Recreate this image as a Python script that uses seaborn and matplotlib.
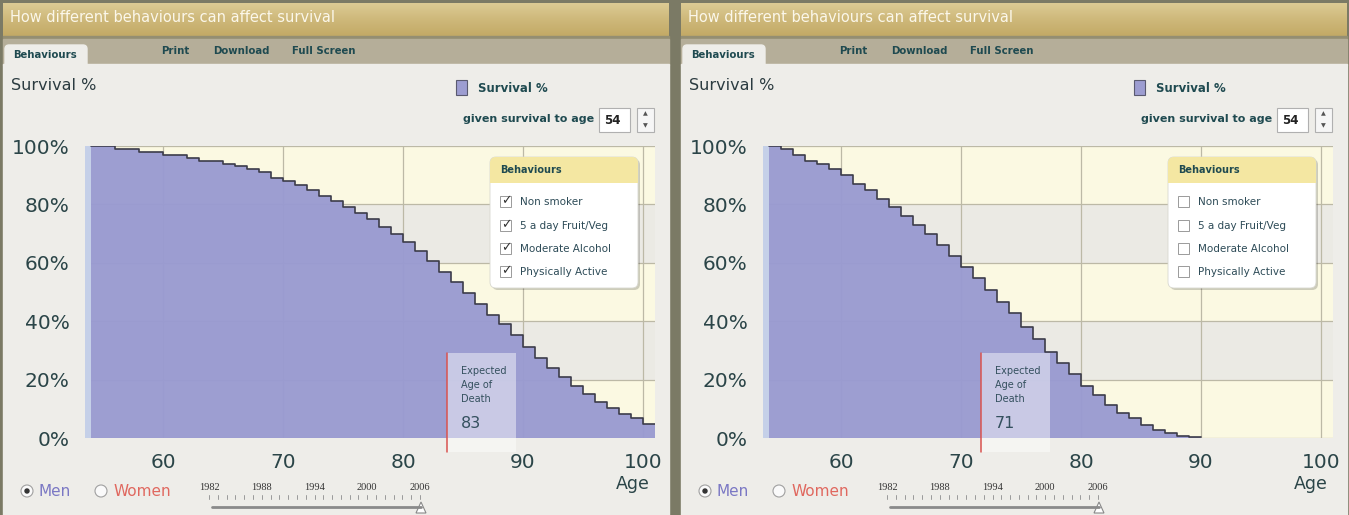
import numpy as np
import matplotlib
matplotlib.use('Agg')
import matplotlib.pyplot as plt
from matplotlib.patches import Rectangle, FancyBboxPatch, Circle, Polygon
from matplotlib.colors import LinearSegmentedColormap
import seaborn as sns

# survival curves (men, given survival to 54)
ages_left = list(range(54, 101))
survival_left = [100, 100, 99, 99, 98, 98, 97, 97, 96, 95, 95, 94, 93, 92, 91, 89,
                 88, 86.6, 84.9, 83, 81, 79, 77, 75, 72.2, 70, 67.2, 64, 60.5, 57,
                 53.3, 49.8, 46, 42, 39, 35.3, 31.3, 27.3, 23.9, 20.8, 17.8, 15,
                 12.4, 10.2, 8.2, 6.7, 4.8]
expected_left = 83
checked_left = [True, True, True, True]

ages_right = list(range(54, 90))
survival_right = [100, 99, 97, 95, 94, 92, 90, 87, 85, 82, 79, 76, 73, 69.7, 66,
                  62.4, 58.7, 54.7, 50.7, 46.7, 42.7, 38, 33.8, 29.6, 25.6, 21.9,
                  17.8, 14.7, 11.3, 8.7, 6.7, 4.5, 2.7, 1.6, 0.8, 0.5]
expected_right = 71
checked_right = [False, False, False, False]

behaviours = ["Non smoker", "5 a day Fruit/Veg", "Moderate Alcohol", "Physically Active"]
age_ticks = [60, 70, 80, 90, 100]
pct_ticks = [0, 20, 40, 60, 80, 100]
slider_years = [1982, 1988, 1994, 2000, 2006]
given_age = 54

W, H = 1349, 515
OLIVE = '#7b7a65'
CONTENT = '#eeede9'
CREAM = '#fbf9e2'
BAND = '#ebeae4'
FILL = '#999ad1'
TEAL = '#1f4a50'
LABEL = '#2b4548'

sns.set_style('white')
plt.rcParams['font.family'] = ['DejaVu Sans']

fig = plt.figure(figsize=(W / 100, H / 100), dpi=100, facecolor=OLIVE)

bg = fig.add_axes([0, 0, 1, 1], zorder=0, label='bg')
bg.set_xlim(0, W)
bg.set_ylim(H, 0)
bg.axis('off')
fg = fig.add_axes([0, 0, 1, 1], zorder=3, label='fg')
fg.set_xlim(0, W)
fg.set_ylim(H, 0)
fg.axis('off')
fg.patch.set_alpha(0)

gold = LinearSegmentedColormap.from_list('gold', ['#dccb94', '#ceb87a', '#c3aa66'])
grad = np.linspace(0, 1, 50).reshape(-1, 1)


def draw_panel(x0, ages, survival, expected, checked):
    # chrome
    bg.imshow(grad, cmap=gold, extent=[x0 + 3, x0 + 669, 36, 3], aspect='auto')
    bg.add_patch(Rectangle((x0 + 3, 36), 666, 3, color='#948e72'))
    bg.add_patch(Rectangle((x0 + 3, 39), 666, 26, color='#b5ae99'))
    bg.add_patch(Rectangle((x0 + 3, 64), 666, H - 64, color=CONTENT))
    bg.add_patch(FancyBboxPatch((x0 + 5, 45), 82, 24, boxstyle='round,pad=0,rounding_size=4',
                                color=CONTENT))
    bg.set_xlim(0, W)
    bg.set_ylim(H, 0)
    bg.text(x0 + 10, 18, 'How different behaviours can affect survival', color='#fbf7ea',
            fontsize=10.5, va='center')
    bg.text(x0 + 13, 55, 'Behaviours', color=TEAL, fontsize=7.3, weight='bold', va='center')
    for lab, cx in zip(['Print', 'Download', 'Full Screen'], [175, 241, 324]):
        bg.text(x0 + cx, 51, lab, color=TEAL, fontsize=7.3, weight='bold', ha='center', va='center')
    bg.text(x0 + 11, 85, 'Survival %', color='#2b3b40', fontsize=11.5, va='center')

    # legend + age selector
    bg.add_patch(Rectangle((x0 + 456, 80), 11, 15, facecolor='#9d9dd1', edgecolor='#5a5a70', lw=0.8))
    bg.text(x0 + 478, 88, 'Survival %', color=TEAL, fontsize=8.5, weight='bold', va='center')
    bg.text(x0 + 594, 119, 'given survival to age', color=TEAL, fontsize=8, weight='bold',
            ha='right', va='center')
    bg.add_patch(Rectangle((x0 + 599, 108), 31, 24, facecolor='white', edgecolor='#b0b0b0', lw=0.8))
    bg.text(x0 + 604, 120, str(given_age), color='#222', fontsize=8.5, weight='bold', va='center')
    bg.add_patch(Rectangle((x0 + 637, 108), 17, 24, facecolor='#f6f6f6', edgecolor='#b0b0b0', lw=0.8))
    bg.text(x0 + 645.5, 114, '▲', fontsize=4.5, color='#555', ha='center', va='center')
    bg.text(x0 + 645.5, 126, '▼', fontsize=4.5, color='#555', ha='center', va='center')

    # bottom controls
    for cx, lab, col, on in [(27, 'Men', '#7b78c4', True), (101, 'Women', '#e0685f', False)]:
        bg.add_patch(Circle((x0 + cx, 491), 6, facecolor='#fafafa', edgecolor='#a0a0a0', lw=0.8))
        if on:
            bg.add_patch(Circle((x0 + cx, 491), 2, color='#333'))
        bg.text(x0 + cx + 12, 492, lab, color=col, fontsize=11, va='center')
    px_per_year = (420 - 209) / (slider_years[-1] - slider_years[0])
    for yr in slider_years:
        bg.text(x0 + 209 + (yr - slider_years[0]) * px_per_year, 487, str(yr),
                family='Liberation Serif', fontsize=7.5, color='#333', ha='center', va='center')
    for yr in range(slider_years[0], slider_years[-1] + 1):
        xx = x0 + 209 + (yr - slider_years[0]) * px_per_year
        bg.plot([xx, xx], [495, 499], color='#9a9a9a', lw=0.7)
    bg.plot([x0 + 212, x0 + 421], [507, 507], color='#8a8a8a', lw=2, solid_capstyle='round')
    bg.add_patch(Polygon([(x0 + 416, 513), (x0 + 426, 513), (x0 + 421, 502)],
                         facecolor='white', edgecolor='#888', lw=0.8))
    bg.text(x0 + 633, 484, 'Age', color=LABEL, fontsize=12.5, ha='center', va='center')

    # plot area
    left = x0 + 85
    ax = fig.add_axes([left / W, 1 - 438 / H, 570 / W, 292 / H], zorder=1, label=f'ax{x0}')
    ax.patch.set_alpha(0)
    for i in range(len(pct_ticks) - 1):
        ax.axhspan(pct_ticks[i], pct_ticks[i + 1], color=CREAM if i % 2 == 0 else BAND,
                   lw=0, zorder=0.2)
    ages_ext = ages + [ages[-1] + 1]
    surv_ext = survival + [survival[-1]]
    ax.fill_between(ages_ext, surv_ext, step='post', color=FILL, alpha=0.96, lw=0, zorder=1)
    sns.lineplot(x=ages_ext, y=surv_ext, drawstyle='steps-post', estimator=None,
                 color='#3c3c4a', lw=1.2, ax=ax, zorder=2)
    ax.axvspan(ages[0] - 0.5, ages[0], color='#c5d0e8', lw=0, zorder=1.5)
    ax.set_xlim(ages[0] - 0.5, 101)
    ax.set_ylim(0, 100)
    ax.set_xticks(age_ticks)
    ax.set_yticks(pct_ticks)
    ax.set_yticks(range(10, 100, 20), minor=True)
    ax.set_yticklabels([f'{p}%' for p in pct_ticks])
    ax.tick_params(axis='both', which='major', length=0, labelsize=14.5, labelcolor=LABEL)
    ax.tick_params(axis='x', pad=11)
    ax.tick_params(axis='y', pad=11)
    ax.tick_params(axis='y', which='minor', direction='in', length=4, color='white', left=True)
    ax.grid(True, color='#bcb9a6', lw=0.9)
    ax.set_axisbelow(True)
    for s in ax.spines.values():
        s.set_visible(False)
    ax.set_xlabel('')
    ax.set_ylabel('')

    # expected age of death box
    bx = expected + 0.7
    ax.add_patch(Rectangle((bx, -4.8), 5.75, 33.9, facecolor='white', alpha=0.45, lw=0,
                           zorder=3, clip_on=False))
    ax.plot([bx, bx], [-4.8, 29.1], color='#d9534f', lw=1.1, zorder=4, clip_on=False)
    ax.text(bx + 1.1, 24.5, 'Expected\nAge of\nDeath', fontsize=7, color='#34505e',
            va='top', linespacing=1.45, zorder=4)
    ax.text(bx + 1.1, 4.8, str(expected), fontsize=11.5, color='#34505e', va='center', zorder=4)

    # behaviours box
    fg.add_patch(FancyBboxPatch((x0 + 492, 159), 148, 131, boxstyle='round,pad=0,rounding_size=6',
                                color='#000000', alpha=0.18, lw=0))
    fg.add_patch(FancyBboxPatch((x0 + 490, 157), 148, 131, boxstyle='round,pad=0,rounding_size=6',
                                facecolor='white', edgecolor='#d8d8d0', lw=0.6))
    fg.add_patch(FancyBboxPatch((x0 + 490, 157), 148, 26, boxstyle='round,pad=0,rounding_size=6',
                                color='#f4e7a2', lw=0))
    fg.add_patch(Rectangle((x0 + 490, 172), 148, 11, color='#f4e7a2', lw=0))
    fg.text(x0 + 500, 170, 'Behaviours', color=TEAL, fontsize=7, weight='bold', va='center')
    for yy, name, on in zip([202, 226, 249, 272], behaviours, checked):
        fg.add_patch(Rectangle((x0 + 500, yy - 6), 11, 11, facecolor='white', edgecolor='#9a9a9a', lw=0.7))
        if on:
            fg.text(x0 + 506, yy - 1, '✓', fontsize=9, color='#333', ha='center', va='center')
        fg.text(x0 + 520, yy, name, color='#2d4b57', fontsize=7.5, va='center')
    return ax


draw_panel(0, ages_left, survival_left, expected_left, checked_left)
draw_panel(678, ages_right, survival_right, expected_right, checked_right)

fig.savefig('out.png', dpi=100, facecolor=OLIVE)
